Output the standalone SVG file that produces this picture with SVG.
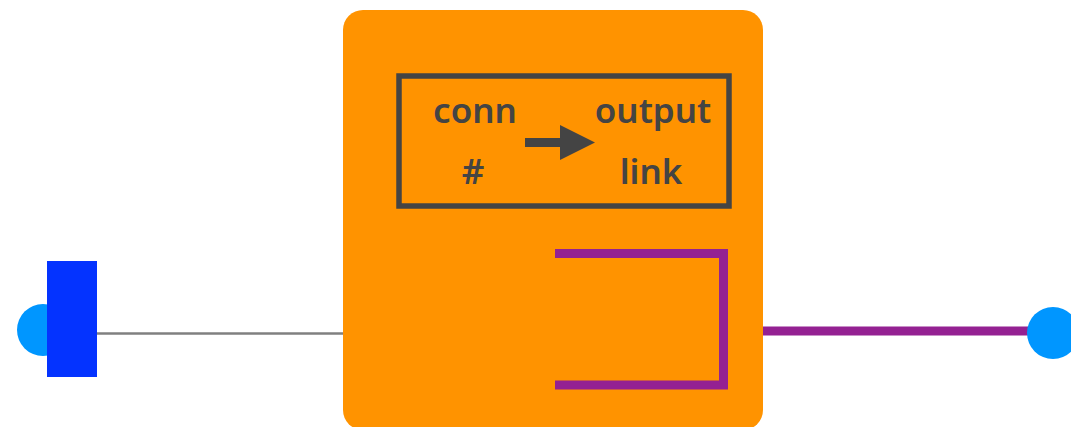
<svg xmlns="http://www.w3.org/2000/svg" width="1071" height="427" viewBox="0 0 1071 427">
<style>
.lbl{font-family:"Noto Sans","Open Sans",sans-serif;font-size:35px;font-weight:600;fill:#444444;text-anchor:middle}
.port{fill:#0096FF}
</style>
<rect width="1071" height="427" fill="#ffffff"/>
<g id="connectors">
<line x1="97" y1="333.5" x2="344" y2="333.5" stroke="#808080" stroke-width="2.5"/>
<line x1="762" y1="331" x2="1040" y2="331" stroke="#942192" stroke-width="9"/>
</g>
<g id="left-port">
<circle class="port" cx="43" cy="330" r="26"/>
<rect x="47" y="261" width="50" height="116" fill="#0433FF"/>
</g>
<g id="block">
<rect x="343" y="10" width="420" height="420" rx="20" fill="#FF9300"/>
<rect x="399" y="76" width="330" height="130" fill="none" stroke="#444444" stroke-width="5.5"/>
<text class="lbl" x="475" y="123">conn</text>
<text class="lbl" x="473" y="184">#</text>
<text class="lbl" x="653" y="123">output</text>
<text class="lbl" x="651" y="184">link</text>
<rect x="525" y="138" width="38" height="9" fill="#444444"/>
<polygon points="560,125 595,142.5 560,160" fill="#444444"/>
<path d="M555,253.5 H723.5 V385 H555" fill="none" stroke="#942192" stroke-width="9"/>
</g>
<g id="right-port">
<circle class="port" cx="1053" cy="333" r="26"/>
</g>
</svg>
